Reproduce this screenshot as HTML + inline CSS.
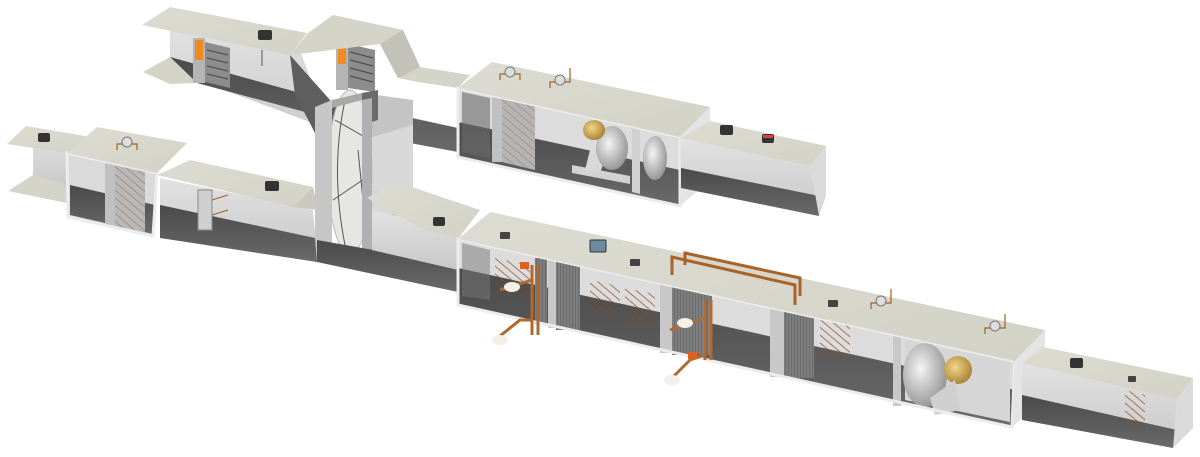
<!DOCTYPE html>
<html><head><meta charset="utf-8"><style>html,body{margin:0;padding:0;background:#fff;width:1200px;height:457px;overflow:hidden}</style></head>
<body>
<svg width="1200" height="457" viewBox="0 0 1200 457" xmlns="http://www.w3.org/2000/svg">
<defs>
<linearGradient id="fl" x1="0" y1="0" x2="0" y2="1"><stop offset="0" stop-color="#4a4a4a"/><stop offset="1" stop-color="#6a6a6a"/></linearGradient>
<linearGradient id="wl" x1="0" y1="0" x2="0" y2="1"><stop offset="0" stop-color="#e2e2e2"/><stop offset="1" stop-color="#c8c8c8"/></linearGradient>
<linearGradient id="pl" x1="0" y1="0" x2="1" y2="1"><stop offset="0" stop-color="#dcdcd2"/><stop offset="1" stop-color="#d2d2c6"/></linearGradient>
<radialGradient id="fan" cx="0.4" cy="0.4" r="0.7"><stop offset="0" stop-color="#f4f4f4"/><stop offset="1" stop-color="#8a8a8a"/></radialGradient>
<radialGradient id="gold" cx="0.4" cy="0.4" r="0.7"><stop offset="0" stop-color="#f2d68a"/><stop offset="1" stop-color="#a07a2a"/></radialGradient>
<pattern id="hat" width="6" height="6" patternUnits="userSpaceOnUse" patternTransform="rotate(-50)"><line x1="0" y1="0" x2="0" y2="6" stroke="#8a4a20" stroke-width="1.4"/></pattern>
<pattern id="coil" width="3" height="4" patternUnits="userSpaceOnUse"><rect width="3" height="4" fill="#6c6c6c"/><line x1="1" y1="0" x2="1" y2="4" stroke="#9a9a9a" stroke-width="0.8"/></pattern>
</defs>

<polygon points="170,22 300,50 318,100 405,116 458,128 458,150 318,125 170,70" fill="url(#wl)"/>
<polygon points="170,57 318,98 458,128 458,152 330,128 318,140 305,112 197,83" fill="url(#fl)"/>
<polygon points="143,72 170,57 197,83 170,84" fill="#d4d4c8"/>
<polygon points="290,55 330,100 320,142 295,95" fill="#5e5e5e"/>
<rect x="193" y="38" width="12" height="45" fill="#b4b4b4"/>
<rect x="195" y="40" width="8" height="20" fill="#f08a20"/>
<polygon points="205,42 230,48 230,88 205,82" fill="#8c8c8c"/>
<g stroke="#444" stroke-width="1"><line x1="207" y1="50" x2="228" y2="55"/><line x1="207" y1="58" x2="228" y2="63"/><line x1="207" y1="66" x2="228" y2="71"/><line x1="207" y1="74" x2="228" y2="79"/></g>
<rect x="336" y="42" width="12" height="48" fill="#b4b4b4"/>
<rect x="338" y="44" width="8" height="20" fill="#f08a20"/>
<polygon points="348,44 375,50 375,92 348,88" fill="#8c8c8c"/>
<g stroke="#444" stroke-width="1"><line x1="350" y1="52" x2="373" y2="58"/><line x1="350" y1="60" x2="373" y2="66"/><line x1="350" y1="68" x2="373" y2="74"/><line x1="350" y1="76" x2="373" y2="82"/></g>
<polygon points="142,25 170,7 307,33 290,55" fill="url(#pl)"/>
<polygon points="308,33 333,15 403,30 420,67 470,75 458,88 418,82 398,78 380,44 290,55" fill="#d4d4c8"/>
<polygon points="380,44 403,30 420,67 398,78" fill="#c2c2b8"/>
<rect x="258" y="30" width="14" height="10" rx="2" fill="#333"/>
<line x1="262" y1="50" x2="262" y2="66" stroke="#555"/>

<polygon points="362,93 413,100 413,240 362,248" fill="#c4c4c4"/>
<polygon points="362,140 413,125 413,210 362,220" fill="#d8d8d8"/>
<polygon points="372,190 405,200 440,212 458,239 405,226" fill="#cfcfcf"/>
<polygon points="362,93 378,90 378,120 362,125" fill="#6a6a6a"/>
<ellipse cx="350" cy="172" rx="22" ry="82" fill="#e6e6e2" stroke="#bbb"/>
<g stroke="#555" stroke-width="1" fill="none"><path d="M335,120 L370,140"/><path d="M333,200 L370,175"/><path d="M345,100 Q330,170 345,245"/><path d="M358,150 L368,250"/></g>
<polygon points="315,107 332,100 332,258 315,262" fill="#c6c6c6"/>
<polygon points="332,100 362,93 362,100 332,108" fill="#a8a8a8"/>
<polygon points="362,100 372,98 372,255 362,258" fill="#b0b0b0"/>

<polygon points="33,130 67,140 67,190 33,180" fill="url(#wl)"/>
<polygon points="8,191 33,175 67,185 67,203" fill="#d4d4c8"/>
<polygon points="7,144 26,126 97,138 67,153" fill="url(#pl)"/>
<rect x="38" y="133" width="12" height="9" rx="2" fill="#333"/>
<polygon points="67,153 157,173 153,236 68,217" fill="#dadada"/>
<polygon points="70,185 155,205 153,234 70,215" fill="url(#fl)"/>
<rect x="105" y="160" width="10" height="65" fill="#c0c0c0"/>
<polygon points="115,163 145,170 145,232 115,226" fill="#b8b8b8"/>
<polygon points="115,163 145,170 145,232 115,226" fill="url(#hat)" opacity="0.5"/>
<polygon points="67,153 157,173 153,236 68,217" fill="none" stroke="#ececec" stroke-width="3"/>
<polygon points="67,153 97,127 187,143 157,173" fill="url(#pl)"/>
<circle cx="127" cy="142" r="5" fill="#ddd" stroke="#777"/>
<path d="M117,150 v-6 h5 M132,144 h5 v6" stroke="#a0602a" fill="none" stroke-width="1.2"/>
<polygon points="160,178 313,210 317,258 160,228" fill="url(#wl)"/>
<polygon points="160,205 315,238 317,262 160,238" fill="url(#fl)"/>
<rect x="198" y="190" width="14" height="40" fill="#cfcfcf" stroke="#888"/>
<line x1="212" y1="200" x2="228" y2="195" stroke="#a0602a"/><line x1="212" y1="215" x2="228" y2="210" stroke="#a0602a"/>
<polygon points="157,175 190,160 313,187 293,207" fill="url(#pl)"/>
<polygon points="293,207 313,187 318,210" fill="#c9c9bd"/>
<rect x="265" y="181" width="14" height="10" rx="2" fill="#333"/>
<polygon points="317,240 458,265 458,292 317,262" fill="url(#fl)"/>
<polygon points="372,210 458,230 458,270 372,250" fill="url(#wl)"/>
<polygon points="367,198 397,182 480,210 458,239 420,228" fill="url(#pl)"/>
<rect x="433" y="217" width="12" height="9" rx="2" fill="#333"/>

<polygon points="458,88 680,137 680,206 458,157" fill="#dcdcdc"/>
<polygon points="458,122 680,170 680,206 458,157" fill="url(#fl)"/>
<polygon points="462,92 490,98 490,158 462,152" fill="#6a6a6a" opacity="0.6"/>
<rect x="492" y="96" width="10" height="66" fill="#c0c0c0"/>
<polygon points="502,98 535,106 535,170 502,162" fill="#b4b4b4"/>
<polygon points="502,98 535,106 535,170 502,162" fill="url(#hat)" opacity="0.4"/>
<polygon points="632,126 640,128 640,194 632,192" fill="#d0d0d0"/>
<polygon points="572,165 630,176 630,184 572,173" fill="#d2d2d2"/>
<polygon points="590,150 610,150 600,172 585,170" fill="#d8d8d8"/>
<ellipse cx="612" cy="148" rx="16" ry="22" fill="url(#fan)"/>
<ellipse cx="655" cy="158" rx="12" ry="22" fill="url(#fan)"/>
<ellipse cx="594" cy="130" rx="11" ry="10" fill="url(#gold)"/>
<polygon points="458,88 680,137 680,206 458,157" fill="none" stroke="#ececec" stroke-width="3"/>
<polygon points="458,88 492,62 710,107 680,137" fill="url(#pl)"/>
<polygon points="680,137 710,107 710,180 680,206" fill="#e4e4e4"/>
<circle cx="510" cy="72" r="5" fill="#ddd" stroke="#777"/><path d="M500,80 v-6 h5 M515,74 h5 v6" stroke="#a0602a" fill="none" stroke-width="1.2"/>
<circle cx="560" cy="80" r="5" fill="#ddd" stroke="#777"/><path d="M550,88 v-6 h5 M565,82 h5 v-14" stroke="#a0602a" fill="none" stroke-width="1.2"/>
<polygon points="681,138 819,166 819,216 681,188" fill="url(#wl)"/>
<polygon points="681,168 819,196 819,216 681,188" fill="url(#fl)"/>
<polygon points="681,138 710,121 826,146 810,166" fill="url(#pl)"/>
<polygon points="810,166 826,146 826,196 819,216" fill="#dadada"/>
<rect x="720" y="125" width="13" height="10" rx="2" fill="#333"/>
<rect x="762" y="134" width="12" height="9" rx="2" fill="#333"/><rect x="763" y="135" width="10" height="3" fill="#e04040"/>

<polygon points="458,239 1015,361 1012,427 458,305" fill="#dcdcdc"/>
<polygon points="458,268 1015,390 1012,427 458,305" fill="url(#fl)"/>
<polygon points="462,243 490,250 490,300 462,296" fill="#777" opacity="0.5"/>
<rect x="535" y="258" width="12" height="66" fill="url(#coil)"/>
<rect x="548" y="260" width="8" height="68" fill="#c8c8c8"/>
<rect x="556" y="262" width="24" height="68" fill="url(#coil)"/>
<rect x="660" y="283" width="12" height="70" fill="#c8c8c8"/>
<rect x="672" y="285" width="40" height="70" fill="url(#coil)"/>
<rect x="770" y="307" width="14" height="70" fill="#c8c8c8"/>
<rect x="784" y="310" width="30" height="68" fill="url(#coil)"/>
<rect x="893" y="334" width="8" height="72" fill="#c8c8c8"/>
<polygon points="495,258 530,265 530,300 495,292" fill="url(#hat)"/>
<polygon points="590,280 620,286 620,320 590,314" fill="url(#hat)"/>
<polygon points="625,288 655,294 655,330 625,324" fill="url(#hat)"/>
<polygon points="820,320 850,326 850,362 820,356" fill="url(#hat)"/>
<polygon points="905,340 1010,362 1010,422 905,400" fill="#d6d6d6"/>
<ellipse cx="925" cy="375" rx="22" ry="32" fill="url(#fan)"/>
<ellipse cx="958" cy="370" rx="14" ry="14" fill="url(#gold)"/>
<polygon points="930,398 955,380 960,410 935,415" fill="#cfcfcf"/>
<polygon points="458,239 1015,361 1012,427 458,305" fill="none" stroke="#ececec" stroke-width="3"/>
<g stroke="#b06a30" stroke-width="3" fill="none">
<path d="M532,265 v70 M538,265 v70"/>
<path d="M705,300 v60 M711,300 v60"/>
<path d="M500,290 L532,280"/><path d="M495,340 L520,320 L532,320"/>
<path d="M670,330 L705,318"/><path d="M668,382 L690,360 L705,355"/>
</g>
<ellipse cx="512" cy="287" rx="8" ry="5" fill="#f4f0e8"/><ellipse cx="500" cy="340" rx="8" ry="5" fill="#f4f0e8"/>
<ellipse cx="685" cy="323" rx="8" ry="5" fill="#f4f0e8"/><ellipse cx="672" cy="380" rx="8" ry="5" fill="#f4f0e8"/>
<rect x="520" y="262" width="9" height="7" fill="#e06020"/><rect x="688" y="352" width="9" height="7" fill="#e06020"/>
<polygon points="458,239 490,212 1045,330 1015,361" fill="url(#pl)"/>
<polygon points="1015,361 1045,330 1045,398 1012,427" fill="#e4e4e4"/>
<g stroke="#a86428" stroke-width="3" fill="none"><path d="M672,275 v-18 L795,285 v20"/><path d="M685,265 v-12 L800,278 v18"/></g>
<rect x="500" y="232" width="10" height="7" rx="1" fill="#444"/>
<rect x="590" y="240" width="16" height="12" rx="1" fill="#6a8aa0" stroke="#333"/>
<rect x="630" y="259" width="10" height="7" rx="1" fill="#444"/>
<rect x="828" y="300" width="10" height="7" rx="1" fill="#444"/>
<circle cx="881" cy="301" r="5" fill="#ddd" stroke="#777"/><path d="M871,309 v-6 h5 M886,303 h5 v-14" stroke="#a0602a" fill="none" stroke-width="1.2"/>
<circle cx="995" cy="326" r="5" fill="#ddd" stroke="#777"/><path d="M985,334 v-6 h5 M1000,328 h5 v-14" stroke="#a0602a" fill="none" stroke-width="1.2"/>
<polygon points="1022,363 1177,400 1173,448 1022,412" fill="url(#wl)"/>
<polygon points="1022,395 1177,430 1173,448 1022,420" fill="url(#fl)"/>
<polygon points="1125,390 1145,395 1145,430 1125,425" fill="url(#hat)"/>
<polygon points="1022,363 1043,347 1193,378 1177,400" fill="url(#pl)"/>
<polygon points="1177,400 1193,378 1193,428 1173,448" fill="#dadada"/>
<rect x="1070" y="358" width="13" height="10" rx="2" fill="#333"/>
<rect x="1128" y="376" width="8" height="6" rx="1" fill="#444"/>
</svg>
</body></html>
